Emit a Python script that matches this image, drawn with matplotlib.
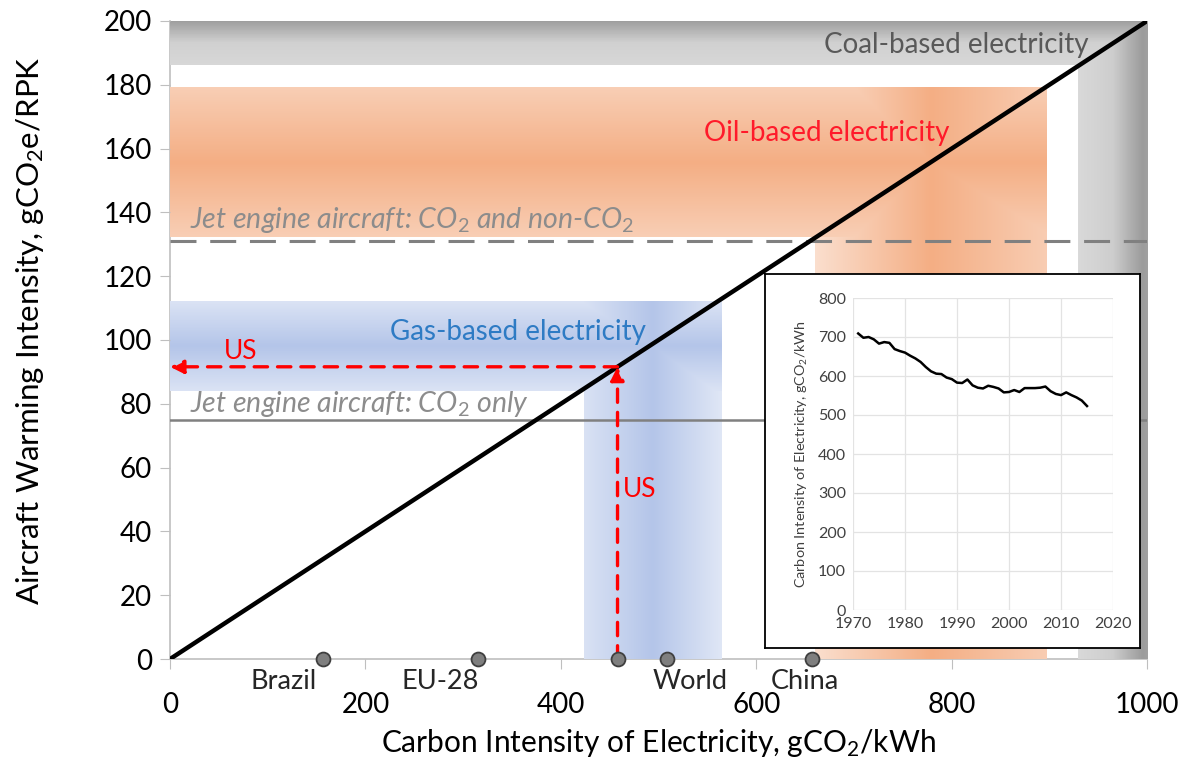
import numpy as np
import matplotlib
matplotlib.use("Agg")
import matplotlib.pyplot as plt
from matplotlib.colors import to_rgb

plt.rcParams['font.family'] = ['Lato', 'DejaVu Sans']
plt.rcParams['mathtext.fontset'] = 'custom'
plt.rcParams['mathtext.rm'] = 'Lato'
plt.rcParams['mathtext.it'] = 'Lato:italic'

# ---- data ----
slope = 200 / 1000  # gCO2e/RPK per gCO2/kWh
diag_x = [0, 1000]
jet_total = 131
jet_co2 = 75
coal_h = (186, 200); coal_v = (928, 1000)
oil_h = (132, 179); oil_v = (660, 897)
gas_h = (84, 112); gas_v = (423, 564)

countries = ["Brazil", "EU-28", "US", "World", "China"]
country_ci = [157, 315, 458, 509, 657]
label_x = [116, 276, None, 532, 650]
us_ci = 458

years = list(range(1971, 2016))
world_ci = [709, 698, 700, 694, 683, 687, 685, 669, 664, 660, 652, 645, 636, 623, 612,
            606, 605, 596, 592, 583, 582, 591, 576, 570, 568, 575, 572, 568, 558, 559,
            564, 559, 569, 569, 569, 570, 573, 561, 554, 551, 558, 551, 545, 537, 523]

fig = plt.figure(figsize=(11.85, 7.68), dpi=100)
ax = fig.add_axes([0.1435, 0.1419, 0.8245, 0.8308])
ax.set_xlim(0, 1000)
ax.set_ylim(0, 200)

# grid for the shaded regions (L-shaped fuel bands)
NX, NY = 2000, 800
gx = (np.arange(NX) + 0.5) / NX * 1000
gy = (np.arange(NY) + 0.5) / NY * 200
GX, GY = np.meshgrid(gx, gy[::-1])


def profile(v, lo, hi, stops):
    t = (v - lo) / (hi - lo)
    ts, vs = zip(*stops)
    return np.interp(t, ts, vs)


def fuel_region(hband, hx1, vband, vy1, dark, hstops, vstops, z):
    inh = (GY >= hband[0]) & (GY <= hband[1]) & (GX <= hx1)
    inv = (GX >= vband[0]) & (GX <= vband[1]) & (GY <= vy1)
    sh = np.where(inh, profile(GY, *hband, hstops), 0)
    sv = np.where(inv, profile(GX, *vband, vstops), 0)
    s = np.maximum(sh, sv)
    d = np.array(to_rgb(dark))
    rgb = 1 - s[..., None] * (1 - d)
    a = (inh | inv).astype(float)
    img = np.concatenate([rgb, a[..., None]], axis=2)
    ax.imshow(img, extent=(0, 1000, 0, 200), aspect='auto', interpolation='nearest',
              zorder=z)


# coal (grey): top band darker at top, right column darker at right
coal_dark = '#9c9c9c'
fuel_region(coal_h, 1000, coal_v, 200, coal_dark,
            [(0, 0.40), (0.5, 0.47), (1, 1.0)],
            [(0, 0.38), (0.5, 0.50), (0.92, 1.0), (1, 0.95)], 1)
# oil (orange)
fuel_region(oil_h, 897, oil_v, 179, '#f4ae84',
            [(0, 0.60), (0.5, 1.0), (1, 0.60)],
            [(0, 0.40), (0.5, 1.0), (1, 0.62)], 1.1)
# gas (blue)
fuel_region(gas_h, 564, gas_v, 112, '#b4c5e9',
            [(0, 0.48), (0.5, 1.0), (1, 0.48)],
            [(0, 0.50), (0.5, 1.0), (1, 0.42)], 1.2)

ax.axhline(jet_total, color='#808080', lw=2.2, ls=(0, (8.5, 4.5)), zorder=2)
ax.axhline(jet_co2, color='#808080', lw=1.8, zorder=2)
ax.plot(diag_x, [v * slope for v in diag_x], color='black', lw=3.2, zorder=3,
        solid_capstyle='butt')

ax.text(805, 192.5, "Coal-based electricity", color='#595959', ha='center', va='center',
        fontsize=20, zorder=4)
ax.text(672, 165, "Oil-based electricity", color='#ff1a2a', ha='center', va='center',
        fontsize=20, zorder=4)
ax.text(356, 102.5, "Gas-based electricity", color='#2e7bc4', ha='center', va='center',
        fontsize=20, zorder=4)
ax.text(20, 137.5, r"Jet engine aircraft: CO$_2$ and non-CO$_2$", color='#8c8c8c',
        style='italic', ha='left', va='center', fontsize=20.5, zorder=4)
ax.text(20, 80, r"Jet engine aircraft: CO$_2$ only", color='#8c8c8c',
        style='italic', ha='left', va='center', fontsize=20.5, zorder=4)

# US arrows
us_w = us_ci * slope
arr = dict(arrowstyle='-|>,head_length=0.8,head_width=0.4', color='#ff0000', lw=2.4,
           linestyle=(0, (4, 3)), shrinkA=0, shrinkB=0)
ax.annotate("", xy=(us_ci, us_w), xytext=(us_ci, 0), arrowprops=arr, zorder=4)
ax.annotate("", xy=(0, us_w), xytext=(us_ci, us_w), arrowprops=arr, zorder=4)
ax.text(us_ci + 5, 53, "US", color='#ff0000', fontsize=19, ha='left', va='center', zorder=4)
ax.text(72, 96.5, "US", color='#ff0000', fontsize=19, ha='center', va='center', zorder=4)

ax.plot(country_ci, [0] * len(country_ci), 'o', ms=10, mfc='#7f7f7f', mec='#3f3f3f',
        mew=1.3, zorder=6, clip_on=False)
for name, lx in zip(countries, label_x):
    if lx is None:
        continue
    ax.text(lx, -7.2, name, fontsize=19.5, color='#262626', ha='center', va='center',
            zorder=6, clip_on=False)

ax.set_xticks(range(0, 1001, 200))
ax.set_yticks(range(0, 201, 20))
ax.tick_params(axis='x', labelsize=20, pad=17, length=7, color='#bfbfbf', direction='out')
ax.tick_params(axis='y', labelsize=20, length=7, pad=6, color='#bfbfbf', direction='out')
for s in ['top', 'right']:
    ax.spines[s].set_visible(False)
for s in ['bottom', 'left']:
    ax.spines[s].set_color('#bfbfbf')
    ax.spines[s].set_linewidth(1.2)
    ax.spines[s].set_zorder(0.5)
ax.set_xlabel(r"Carbon Intensity of Electricity, gCO$_2$/kWh", fontsize=21.5, labelpad=6)
ax.set_ylabel(r"Aircraft Warming Intensity, gCO$_2$e/RPK", fontsize=22.5)
ax.yaxis.set_label_coords(-0.127, 0.515)

# inset frame
bg = fig.add_axes([765 / 1185, 1 - 648 / 768, 375 / 1185, 374 / 768])
bg.set_xticks([]); bg.set_yticks([])
for s in bg.spines.values():
    s.set_color('black'); s.set_linewidth(1.3)

ins = fig.add_axes([853 / 1185, 1 - 610 / 768, 260 / 1185, 312 / 768])
ins.plot(years, world_ci, color='black', lw=1.8)
ins.set_xlim(1970, 2020)
ins.set_ylim(0, 800)
ins.set_xticks(range(1970, 2021, 10))
ins.set_yticks(range(0, 801, 100))
ins.grid(True, color='#e3e3e3', lw=0.9)
ins.set_axisbelow(True)
for s in ins.spines.values():
    s.set_visible(False)
ins.tick_params(labelsize=11.5, length=0, colors='#404040', pad=5)
ins.set_ylabel(r"Carbon Intensity of Electricity, gCO$_2$/kWh", fontsize=10.4,
               color='#404040', labelpad=6)

fig.savefig("out.png", dpi=100)
